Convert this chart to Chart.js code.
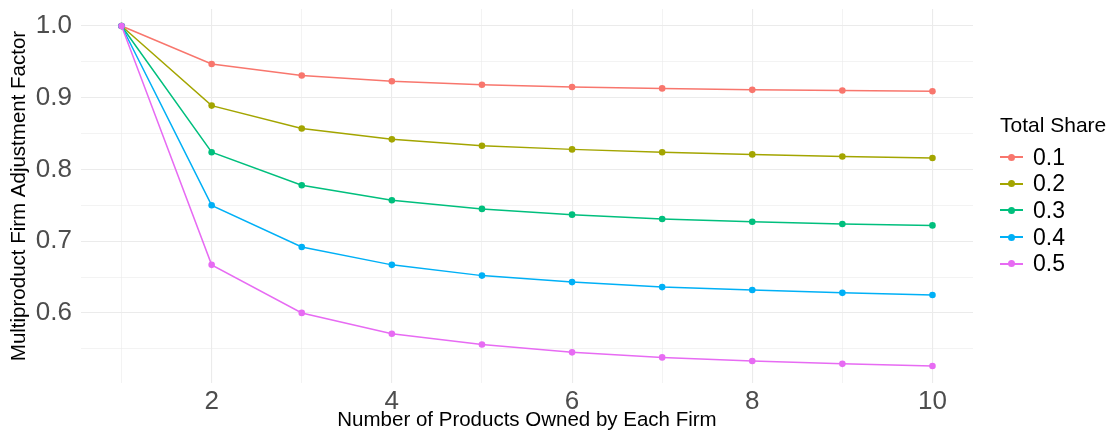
<!DOCTYPE html>
<html>
<head>
<meta charset="utf-8">
<script src="https://cdn.jsdelivr.net/npm/chart.js@4"></script>
<style>
  body { margin: 0; background: #fff; font-family: "Liberation Sans", Arial, sans-serif; }
  #wrap { position: relative; width: 1113px; height: 444px; }
  #legend { position: absolute; left: 1000px; top: 113px; color: #000; }
  #legend .title { font-size: 21px; line-height: 24px; margin-bottom: 7px; }
  #legend .item { height: 26.6px; display: flex; align-items: center; font-size: 23px; }
  #legend .sym { position: relative; width: 23px; height: 12px; margin-right: 10px; }
  #legend .sym .ln { position: absolute; left: 0; right: 0; top: 5px; height: 2px; }
  #legend .sym .dot { position: absolute; left: 8px; top: 2.5px; width: 7px; height: 7px; border-radius: 50%; }
</style>
</head>
<body>
<div id="wrap">
  <canvas id="myChart" width="1113" height="444"></canvas>
  <div id="legend"></div>
</div>
<script>
const products = [1, 2, 3, 4, 5, 6, 7, 8, 9, 10];
const shares = ['0.1', '0.2', '0.3', '0.4', '0.5'];
const colors = ['#F8766D', '#A3A500', '#00BF7D', '#00B0F6', '#E76BF3'];

const share01 = [1.000, 0.947, 0.931, 0.923, 0.918, 0.915, 0.913, 0.911, 0.910, 0.909];
const share02 = [1.000, 0.889, 0.857, 0.842, 0.833, 0.828, 0.824, 0.821, 0.818, 0.816];
const share03 = [1.000, 0.824, 0.778, 0.757, 0.745, 0.737, 0.731, 0.727, 0.724, 0.722];
const share04 = [1.000, 0.750, 0.692, 0.667, 0.652, 0.643, 0.636, 0.632, 0.628, 0.625];
const share05 = [1.000, 0.667, 0.600, 0.571, 0.556, 0.545, 0.538, 0.533, 0.529, 0.526];
const seriesValues = [share01, share02, share03, share04, share05];

const yTicks = [0.55, 0.6, 0.65, 0.7, 0.75, 0.8, 0.85, 0.9, 0.95, 1.0];
const yLabels = ['0.6', '0.7', '0.8', '0.9', '1.0'];
const xTicks = [1, 2, 3, 4, 5, 6, 7, 8, 9, 10];
const xLabels = ['2', '4', '6', '8', '10'];

const gridColor = '#EBEBEB';
const tickColor = '#4D4D4D';
const font = '"Liberation Sans", Arial, sans-serif';

// 0.6, 0.7 ... are major, 0.55, 0.65 ... minor
function isMajorY (v) {
  return Math.abs(v * 10 - Math.round(v * 10)) < 1e-6;
}

const datasets = shares.map((s, i) => ({
  label: s,
  data: products.map((p, j) => ({ x: p, y: seriesValues[i][j] })),
  borderColor: colors[i],
  backgroundColor: colors[i],
  borderWidth: 1.5,
  pointRadius: 3.3,
  pointBorderWidth: 0,
  tension: 0,
  order: shares.length - i
}));

var ctx = document.getElementById('myChart').getContext('2d');
var chart = new Chart(ctx, {
  type: 'line',
  data: { datasets: datasets },
  options: {
    responsive: false,
    animation: false,
    layout: { padding: { top: 9, right: 140, left: 0, bottom: 4 } },
    plugins: { legend: { display: false }, tooltip: { enabled: false } },
    scales: {
      x: {
        type: 'linear',
        min: 0.55,
        max: 10.45,
        afterBuildTicks: (scale) => { scale.ticks = xTicks.map(v => ({ value: v })); },
        afterFit: (scale) => {
          scale.height = 57;
          scale.paddingLeft = 0;
          scale.paddingRight = 0;
        },
        border: { display: false },
        grid: {
          drawTicks: false,
          color: gridColor,
          lineWidth: (c) => xLabels.includes(String(c.tick.value)) ? 1.1 : 0.6
        },
        ticks: {
          padding: 3,
          color: tickColor,
          font: { family: font, size: 26 },
          callback: (v) => xLabels.includes(String(v)) ? String(v) : ''
        },
        title: {
          display: true,
          text: 'Number of Products Owned by Each Firm',
          color: '#000',
          font: { family: font, size: 20.5 },
          padding: { top: 0, bottom: 7 }
        }
      },
      y: {
        min: 0.5023,
        max: 1.0237,
        afterBuildTicks: (scale) => { scale.ticks = yTicks.map(v => ({ value: v })); },
        afterFit: (scale) => {
          scale.width = 81;
          scale.paddingTop = 0;
          scale.paddingBottom = 0;
        },
        border: { display: false },
        grid: {
          drawTicks: false,
          color: gridColor,
          lineWidth: (c) => isMajorY(c.tick.value) ? 1.1 : 0.6
        },
        ticks: {
          padding: 9,
          color: tickColor,
          font: { family: font, size: 26 },
          callback: (v) => isMajorY(v) && yLabels.includes(v.toFixed(1)) ? v.toFixed(1) : ''
        },
        title: {
          display: true,
          text: 'Multiproduct Firm Adjustment Factor',
          color: '#000',
          font: { family: font, size: 20.5 },
          padding: { top: 7, bottom: 0 }
        }
      }
    }
  }
});

// legend
const legend = document.getElementById('legend');
legend.innerHTML = '<div class="title">Total Share</div>' + shares.map((s, i) =>
  `<div class="item"><span class="sym"><span class="ln" style="background:${colors[i]}"></span>` +
  `<span class="dot" style="background:${colors[i]}"></span></span>${s}</div>`).join('');
</script>
</body>
</html>
